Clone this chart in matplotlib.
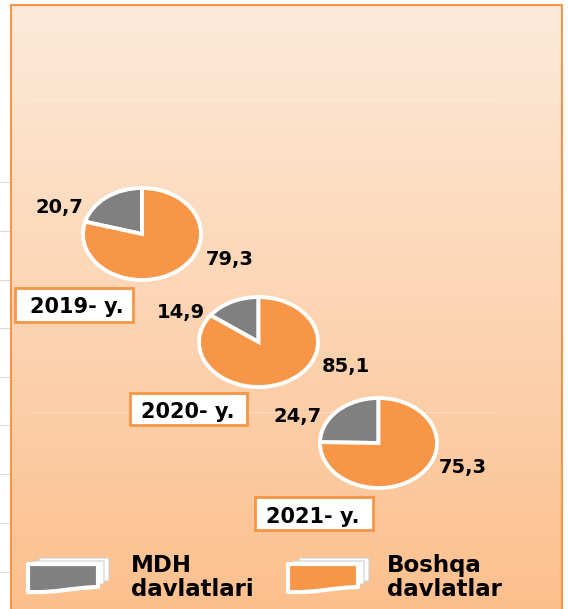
import numpy as np
import matplotlib
matplotlib.use('Agg')
import matplotlib.pyplot as plt
from matplotlib.patches import Rectangle, PathPatch
from matplotlib.path import Path


years = ['2019- y.', '2020- y.', '2021- y.']
mdh = [20.7, 14.9, 24.7]
boshqa = [79.3, 85.1, 75.3]
series_names = ['MDH\ndavlatlari', 'Boshqa\ndavlatlar']

GRAY = '#808080'
ORANGE = '#F79646'
W, H = 568, 609


def fmt(v):
	return ('%.1f' % v).replace('.', ',')


def icon(ax, x0, color):
	# stacked sheets, back to front
	for dx, dy, fc, ec, lw in [(11, -6, 'white', '#cfcfcf', 0.8),
							   (6, -3, 'white', '#cfcfcf', 0.8),
							   (0, 0, color, 'white', 3.0)]:
		x1 = x0 + 70 + dx
		xl = x0 + dx
		top = 564 + dy
		verts = [(xl, top), (x1, top), (x1, 587 + dy),
				 (x1 - 30, 588 + dy), (xl + 30, 593 + dy), (xl, 592 + dy),
				 (xl, top)]
		codes = [Path.MOVETO, Path.LINETO, Path.LINETO,
				 Path.CURVE4, Path.CURVE4, Path.CURVE4, Path.CLOSEPOLY]
		ax.add_patch(PathPatch(Path(verts, codes), facecolor=fc, edgecolor=ec,
							   linewidth=lw, joinstyle='round', zorder=5))


def plot_chart():

	fig = plt.figure(figsize=(W / 100, H / 100), dpi=100)
	fig.patch.set_facecolor('white')
	ax = fig.add_axes([0, 0, 1, 1])
	ax.set_xlim(0, W)
	ax.set_ylim(H, 0)
	ax.axis('off')

	# faint grid stubs left of the panel
	for y in [182, 231, 280, 328, 377, 425, 474, 523, 572]:
		ax.plot([0, 10], [y, y], color='#dcdcdc', linewidth=0.8, zorder=1)

	# panel with vertical gradient
	top_c = np.array([253, 234, 218]) / 255
	bot_c = np.array([252, 192, 142]) / 255
	t = np.linspace(0, 1, 600)[:, None, None]
	grad = top_c * (1 - t) + bot_c * t
	ax.imshow(grad, extent=(11, 562, 609, 5), aspect='auto', origin='upper', zorder=2)
	ax.plot([11, 11, 562, 562], [612, 5, 5, 612], color=ORANGE, linewidth=1.5, zorder=3)

	for y in [99, 412]:
		ax.plot([32, 497], [y, y], color='white', alpha=0.3, linewidth=0.8, zorder=3)

	pie_boxes = [(83, 188, 201, 280), (199, 297, 318, 387), (320, 398, 437, 488)]
	mdh_pos = [(59, 213), (181, 318), (298, 422)]
	other_pos = [(230, 265), (346, 372), (463, 473)]
	year_boxes = [(15, 288, 133, 322), (130, 393, 247, 425), (255, 497, 373, 530)]
	year_text = [(77, 313), (188, 418), (313, 523)]

	for i in range(len(years)):
		x0, y0, x1, y1 = pie_boxes[i]
		pax = fig.add_axes([x0 / W, 1 - y1 / H, (x1 - x0) / W, (y1 - y0) / H])
		pax.pie([mdh[i], boshqa[i]], colors=[GRAY, ORANGE], startangle=90,
				counterclock=True, radius=1,
				wedgeprops=dict(edgecolor='white', linewidth=2.8, clip_on=False))
		pax.set_aspect('auto')
		pax.set_xlim(-1, 1)
		pax.set_ylim(-1, 1)
		pax.axis('off')

		ax.text(*mdh_pos[i], fmt(mdh[i]), ha='center', va='baseline',
				fontsize=14, fontweight='heavy', color='black', zorder=6)
		ax.text(*other_pos[i], fmt(boshqa[i]), ha='center', va='baseline',
				fontsize=14, fontweight='heavy', color='black', zorder=6)

		bx0, by0, bx1, by1 = year_boxes[i]
		ax.add_patch(Rectangle((bx0, by0), bx1 - bx0, by1 - by0, facecolor='white',
							   edgecolor=ORANGE, linewidth=2, zorder=5))
		ax.text(*year_text[i], years[i], ha='center', va='baseline',
				fontsize=15, fontweight='heavy', color='black', zorder=6)

	# legend
	icon(ax, 28, GRAY)
	icon(ax, 288, ORANGE)
	for x, name in [(131, series_names[0]), (387, series_names[1])]:
		first, second = name.split('\n')
		ax.text(x, 572, first, ha='left', va='baseline', fontsize=16.5,
				fontweight='heavy', color='black', zorder=6)
		ax.text(x, 596, second, ha='left', va='baseline', fontsize=16.5,
				fontweight='heavy', color='black', zorder=6)

	fig.savefig('out.png', dpi=100, facecolor='white')


if __name__ == "__main__":

	plot_chart()
